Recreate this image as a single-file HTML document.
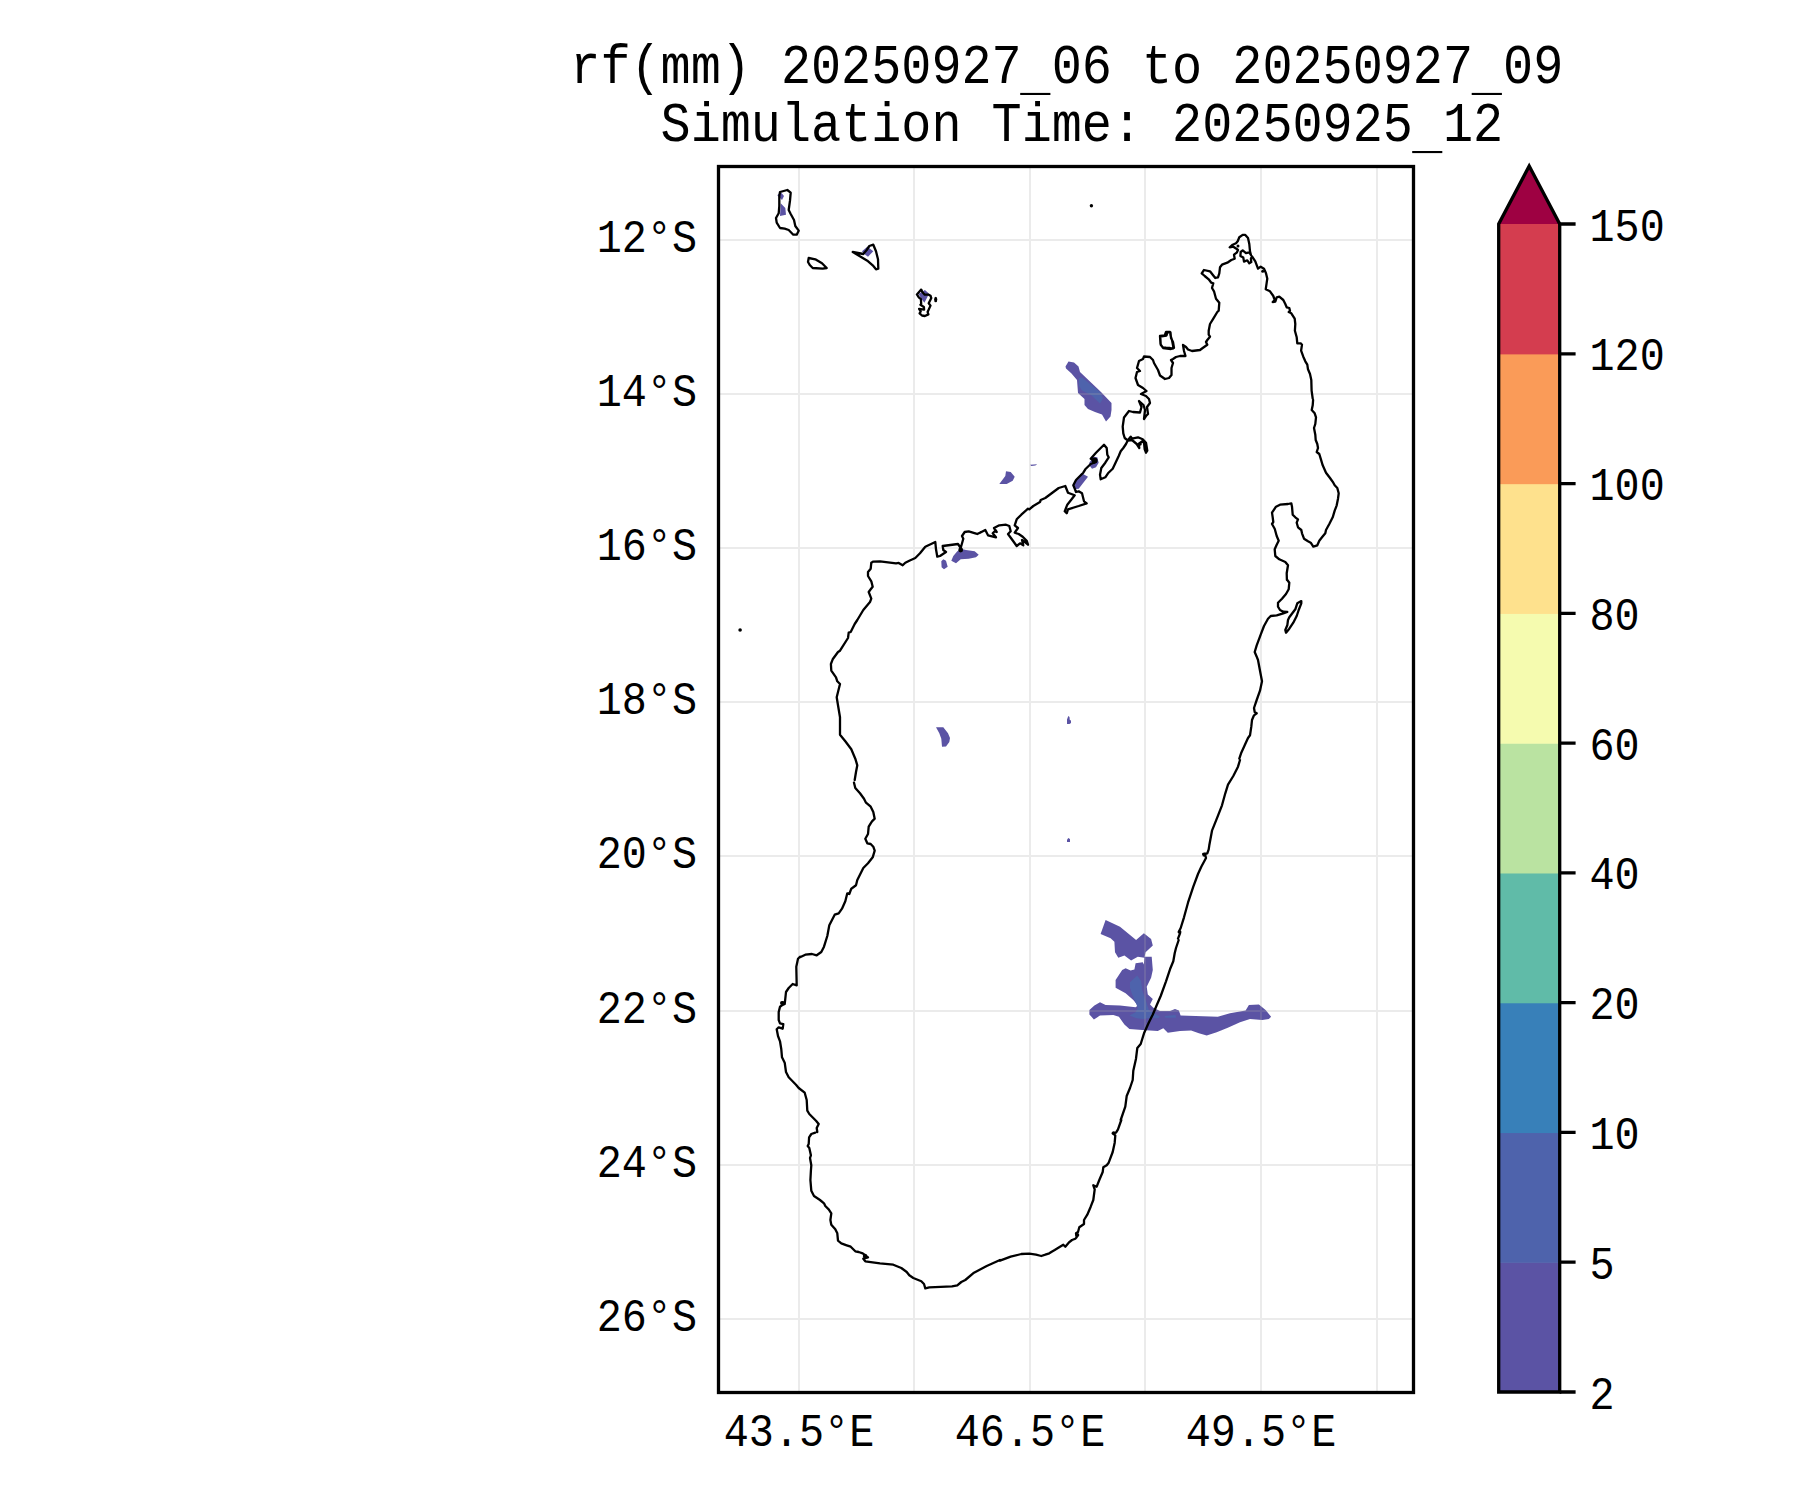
<!DOCTYPE html>
<html><head><meta charset="utf-8"><style>
html,body{margin:0;padding:0;background:#fff;width:1800px;height:1500px;overflow:hidden}
svg{display:block}
text{font-family:"Liberation Mono", monospace;fill:#000}
</style></head><body>
<svg width="1800" height="1500" viewBox="0 0 1800 1500">
<rect width="1800" height="1500" fill="#fff"/>
<path d="M936.0 727.3 943.3 727.3 948.0 733.3 950.0 738.0 949.3 742.0 946.0 746.4 942.0 746.7 941.3 738.7 939.3 733.3ZM951.3 560.7 953.3 556.0 957.3 551.3 960.7 548.7 966.0 550.0 974.7 551.3 978.7 554.7 976.0 557.3 968.7 558.7 960.7 559.3 956.0 563.3ZM941.3 561.3 943.3 559.3 946.0 560.7 947.7 566.7 944.0 569.3 941.6 567.3ZM999.3 484.0 1005.3 476.0 1006.0 471.3 1010.7 472.0 1014.7 476.7 1012.7 480.7 1006.7 484.0ZM1030.0 464.7 1037.3 464.3 1035.3 465.6 1031.3 466.0ZM1073.3 484.0 1081.3 473.1 1088.0 476.7 1078.7 488.7 1074.0 489.3ZM1089.3 462.7 1093.3 456.7 1097.3 457.3 1098.7 462.7 1096.0 467.3 1092.0 468.7 1089.3 465.3ZM1065.5 366.5 1068.5 361.5 1074.0 362.5 1078.5 366.5 1080.0 372.0 1101.0 392.0 1111.5 403.0 1111.5 410.0 1110.5 416.5 1106.0 421.5 1102.0 414.5 1095.0 412.0 1088.0 409.0 1084.5 405.0 1084.5 399.0 1078.0 393.0 1077.0 380.0 1071.5 373.5 1066.0 368.5ZM777.3 195.3 780.7 192.0 784.0 196.0 782.0 200.0ZM780.7 203.3 785.3 208.0 786.0 214.7 780.0 216.0ZM862.0 251.3 867.3 246.7 870.7 249.3 873.3 251.3 868.0 256.7 863.3 253.3ZM1105.6 920.0 1120.0 926.7 1136.1 940.0 1143.9 933.3 1151.1 938.9 1152.8 945.6 1145.6 952.2 1144.4 957.8 1137.8 956.7 1131.1 960.6 1124.4 955.6 1118.3 957.8 1115.0 952.2 1114.4 941.7 1110.6 938.3 1100.6 933.9ZM1135.6 963.3 1142.8 962.2 1143.9 964.4 1144.4 956.7 1151.7 956.7 1152.8 970.0 1151.1 977.8 1146.7 986.7 1147.8 994.4 1152.8 998.9 1150.0 1004.4 1153.3 1007.8 1160.0 1011.1 1170.0 1011.1 1175.0 1008.9 1178.9 1010.6 1180.6 1015.6 1217.8 1016.7 1230.0 1013.3 1245.6 1010.6 1248.9 1005.0 1258.9 1004.4 1265.6 1010.0 1271.1 1016.7 1268.9 1018.9 1262.2 1020.0 1250.0 1018.9 1240.0 1022.2 1227.8 1027.8 1216.7 1032.2 1206.7 1035.6 1198.9 1033.3 1191.1 1030.6 1180.0 1031.1 1167.8 1032.8 1163.3 1028.3 1157.8 1031.1 1142.2 1030.0 1129.4 1028.9 1124.4 1024.4 1118.9 1016.7 1113.3 1015.0 1100.0 1015.6 1093.9 1019.4 1089.4 1014.4 1089.4 1010.0 1094.4 1005.6 1100.0 1002.2 1105.6 1005.0 1120.0 1005.6 1135.6 1007.2 1137.8 1005.6 1133.3 1000.0 1125.6 993.3 1115.6 987.8 1115.6 980.0 1122.2 970.0 1125.6 968.3 1130.6 970.6 1134.4 969.4ZM918.5 294.1 924.9 290.1 928.9 293.6 927.3 297.3 924.4 302.7 921.7 299.2ZM1067 719.5L1068.3 716L1069.5 717L1069.8 720L1071 720.5L1071 723L1069.5 724L1067 724ZM1067 840L1068.2 838L1070 839L1070 842L1067 842Z" fill="#5b53a4" stroke="none"/>
<path d="M1079.0 378.0 1082.0 377.5 1100.0 392.0 1103.0 398.5 1100.0 403.5 1091.0 395.0 1082.0 390.5 1079.0 386.0ZM1130.0 982.2 1137.2 975.6 1141.1 981.1 1142.2 990.0 1145.6 1000.0 1148.9 1010.0 1160.0 1016.7 1157.8 1018.3 1151.1 1017.8 1143.3 1018.9 1136.7 1018.3 1129.4 1015.6 1135.6 1012.2 1137.8 1007.8 1132.2 994.4 1130.0 987.8ZM1164.4 1016.1 1175.6 1015.0 1176.1 1017.8 1165.6 1017.8Z" fill="#4e63ac" stroke="none"/>
<path d="M799.0 166.5V1392.5M914.0 166.5V1392.5M1030.0 166.5V1392.5M1145.0 166.5V1392.5M1261.0 166.5V1392.5M1377.0 166.5V1392.5M718.5 240.0H1413.5M718.5 394.0H1413.5M718.5 548.0H1413.5M718.5 702.0H1413.5M718.5 856.0H1413.5M718.5 1011.0H1413.5M718.5 1165.0H1413.5M718.5 1319.0H1413.5" stroke="#a7a7a7" stroke-opacity="0.23" stroke-width="2" fill="none"/>
<path d="M1242.7 234.9 1245.3 234.9 1248.0 238.0 1249.3 244.0 1250.0 251.3 1250.9 254.9 1249.3 252.3 1246.0 253.1 1242.7 250.4 1240.7 252.0 1240.4 256.0 1243.3 257.6 1244.0 261.6 1247.3 260.3 1249.3 263.3 1251.3 262.1 1250.9 258.7 1252.0 256.3 1255.3 261.3 1258.0 268.7 1260.7 266.7 1264.0 268.7 1266.0 273.3 1267.3 278.7 1266.7 282.7 1265.7 289.3 1270.0 291.3 1273.3 296.0 1274.7 300.0 1272.7 302.0 1275.3 301.6 1276.7 297.3 1279.3 296.7 1283.3 300.0 1285.3 304.0 1286.7 307.3 1289.3 308.0 1290.0 310.7 1288.7 312.0 1291.3 313.3 1294.7 318.7 1295.3 324.0 1294.9 330.7 1296.7 337.3 1297.3 343.3 1300.7 343.3 1302.0 344.7 1301.1 350.7 1303.3 356.7 1305.3 361.3 1307.3 364.7 1308.0 369.3 1310.0 374.0 1311.3 380.0 1311.6 390.7 1312.7 398.7M1242.7 234.9 1239.3 237.3 1237.7 241.3 1236.0 243.3 1232.7 244.7 1229.7 247.3 1233.3 246.7 1236.4 248.7 1238.0 250.0 1236.7 252.7 1234.0 254.7 1234.7 258.7 1231.3 260.0 1227.3 262.7 1222.0 264.7 1220.0 267.3 1219.3 273.3 1218.0 277.3 1215.3 278.0 1212.7 274.7 1210.0 271.3 1204.0 270.0 1201.7 273.3 1204.7 276.0 1208.7 279.3 1211.3 282.7 1213.3 283.3 1212.0 288.0 1214.0 291.3 1216.0 298.7 1219.3 302.7 1218.7 310.7 1217.3 312.0 1213.3 318.7 1210.0 324.0 1208.7 330.7 1208.7 334.7 1210.0 336.7 1207.3 340.0 1206.0 342.0 1207.3 344.7 1202.7 348.0M1166.0 332.0 1170.0 332.0 1170.7 336.0 1172.0 340.0 1173.3 346.7 1172.7 348.7 1170.0 348.0 1166.0 347.7 1162.7 347.3 1160.7 344.7 1160.4 338.7 1160.0 336.0 1164.7 335.3ZM1313.1 400.0 1312.7 405.3 1311.7 410.0 1314.7 413.3 1316.0 417.3 1315.3 424.0 1314.0 428.0 1315.3 434.7 1315.7 440.0 1317.3 444.0 1318.0 448.0 1316.7 452.0 1319.3 454.0 1320.7 458.7 1322.7 465.3 1326.0 472.7 1330.0 478.0 1333.3 482.7 1334.7 485.3 1337.3 488.0 1338.7 493.3 1338.0 498.7 1336.7 505.3 1334.7 510.7 1332.7 517.3 1329.3 524.0 1326.0 530.0 1325.3 533.3 1322.0 537.3 1319.3 540.7 1317.3 545.3 1313.3 546.7 1310.7 542.7 1308.0 541.3 1304.0 538.7 1302.0 533.3 1301.3 530.0 1298.0 527.3 1296.7 522.7 1298.0 519.3 1295.3 517.3 1292.7 514.7 1292.0 506.7 1291.3 503.3 1288.0 504.0 1280.0 504.7 1276.0 506.7 1272.0 512.7 1272.7 517.3 1273.3 522.0 1272.0 524.0 1274.7 528.7 1276.7 536.0 1278.7 540.7 1276.7 544.7 1274.7 549.3 1275.3 556.0 1279.3 559.3 1285.3 562.0 1288.0 565.3 1286.7 573.3 1286.9 580.0M1287.3 580.0 1289.3 582.7 1288.7 589.3 1286.0 594.0 1282.0 598.7 1278.0 602.7 1278.0 606.7 1280.0 610.0 1283.3 611.7 1287.3 612.0 1283.3 613.3 1276.7 615.3 1270.7 616.0 1268.0 618.7 1264.0 626.0 1260.7 634.7 1256.7 645.3 1254.7 652.0 1256.7 656.7 1258.0 660.0 1260.0 670.7 1262.0 681.3 1260.0 690.7 1256.7 700.0 1254.0 708.0 1254.7 712.0 1256.7 713.3 1254.0 715.3 1252.0 720.0 1251.3 726.7 1250.0 735.3 1248.0 738.0 1244.7 745.3 1241.3 752.7 1239.3 758.7M1301.3 601.1 1297.3 603.3 1295.3 609.3 1289.3 617.3 1288.0 620.0 1287.3 625.3 1285.3 630.0 1286.0 632.7 1289.3 628.7 1293.3 622.7 1296.7 616.0 1298.7 610.0 1301.3 603.3ZM1240.0 760.0 1238.0 766.7 1233.3 776.0 1228.0 784.7 1225.3 793.3 1222.0 805.3 1217.3 817.3 1212.0 830.7 1209.3 845.3 1208.7 849.3 1207.3 853.3 1203.3 854.0 1205.3 855.3 1206.0 858.0 1201.3 866.7 1198.0 874.0 1193.3 886.7 1188.0 902.7 1184.0 917.3 1180.7 928.0 1178.7 932.0 1180.0 933.3 1178.0 938.7M1178.7 940.0 1176.0 948.0 1174.7 953.3 1173.3 961.3 1170.0 969.3 1166.0 981.3 1160.7 996.0 1156.7 1005.3 1152.7 1014.7 1148.7 1022.7 1144.0 1033.3 1140.7 1044.0 1137.3 1048.0 1136.0 1058.7 1133.3 1070.7 1132.7 1080.0 1130.0 1088.0 1126.7 1096.0 1125.3 1106.7 1120.7 1120.0M1121.3 1120.0 1118.0 1129.3 1116.0 1132.7 1112.7 1133.3 1115.3 1135.3 1114.7 1142.7 1112.7 1152.0 1108.7 1162.7 1106.7 1165.3 1103.3 1167.3 1102.7 1172.0 1099.3 1180.0 1096.7 1186.7 1093.3 1185.3 1094.7 1189.3 1093.3 1200.0 1090.7 1206.7 1087.3 1214.7 1084.0 1220.0 1084.0 1224.0 1079.3 1227.3 1078.0 1232.0 1076.0 1233.3 1076.7 1237.3 1075.3 1238.7 1072.0 1240.0 1068.7 1242.7 1065.3 1246.7 1063.3 1244.7 1060.0 1246.7 1054.7 1250.0 1051.3 1252.0 1049.3 1253.3 1045.3 1254.7 1041.3 1256.0 1036.0 1254.7 1029.3 1253.7 1021.3 1254.0 1010.7 1256.7 1000.0 1260.7M1000.0 1260.0 986.7 1266.0 974.0 1272.7 965.3 1280.0 961.3 1282.0 957.3 1285.3 952.0 1286.4 929.3 1287.3 925.3 1288.3 924.0 1284.0 921.3 1281.3 913.3 1278.0 909.3 1275.3 906.7 1272.0 901.3 1268.0 893.3 1264.7 880.0 1263.3 865.3 1261.3 863.3 1258.7 868.0 1257.3 862.7 1253.3 858.7 1252.0 855.3 1251.3 850.7 1246.7 846.7 1245.3 841.3 1243.3 838.0 1240.7 837.3 1233.3 835.3 1229.3 831.3 1224.7 830.4 1220.0 831.3 1213.3 828.7 1209.3 825.3 1206.0 824.0 1203.3 820.0 1200.0 814.0 1196.0 811.3 1190.7 810.4 1180.0 810.9 1170.7 811.3 1165.3 810.0 1158.0 810.9 1155.3 809.3 1148.0 807.7 1146.0 808.7 1144.0 809.1 1137.3 811.3 1134.0 815.3 1132.7M817.3 1132.0 816.7 1128.0 818.7 1124.0 816.0 1120.7 809.3 1114.0 807.3 1110.7 806.7 1100.0 804.7 1092.7 798.7 1088.0 796.0 1084.7 793.3 1082.0 788.7 1077.3 786.0 1072.0 784.7 1062.7 782.0 1057.3 781.3 1049.3 780.0 1041.3 778.0 1036.0 776.7 1029.3 778.7 1027.3 782.7 1028.7 783.3 1024.0 780.0 1023.3 778.7 1020.0 778.7 1012.0 780.0 1006.7 782.0 1005.3 784.7 1004.0 785.3 998.7 786.0 992.0 788.7 988.0 792.7 984.0 796.7 985.3 796.3 966.7 798.0 958.7 800.0 956.7M800.0 957.3 805.3 954.7 812.0 954.0 816.7 955.3 821.3 952.0 824.0 946.7 827.3 936.0 829.3 925.3 834.7 914.7 838.7 913.3 842.0 908.7 845.3 901.3 847.3 893.3 849.3 894.0 851.3 888.7 856.0 885.3 857.3 880.0 863.3 868.0 868.0 863.3 872.7 857.3 874.7 850.7 873.3 846.7 870.7 844.0 867.3 843.3 865.3 838.7 868.0 834.0 868.7 826.7 870.7 823.3 872.0 821.3 874.7 818.7 873.3 812.0 870.7 806.7 866.0 802.7 864.0 798.7 860.0 793.3 855.3 788.0 854.0 782.7M854.7 780.0 856.0 772.0 857.3 765.3 855.3 758.7 851.3 749.3 845.3 741.3 840.0 734.7 840.0 717.3 838.0 705.3 836.7 697.3 838.0 692.0 840.0 684.0 837.3 681.3 836.0 677.3 831.3 670.7 830.9 664.0 832.7 659.3 838.0 652.0 840.0 650.7M840.0 650.7 848.0 638.0 848.7 632.7 850.7 632.0 854.7 624.0 857.3 620.0 863.3 610.0 870.0 602.0 871.3 598.7 868.7 592.0 870.7 589.3 872.7 586.7 871.3 581.3 868.0 576.0 868.0 572.0 870.7 568.7 871.3 562.7 873.3 561.6 880.0 561.3 896.0 563.3 898.7 562.9 902.7 565.3 905.3 562.7 909.3 560.7 915.3 558.0 920.0 553.3 925.3 546.7 935.3 542.0 936.0 549.3 937.3 556.7 940.0 556.0 946.0 552.0 943.3 550.0 942.7 546.0 958.0 544.0 960.7 548.0 963.3 538.7 962.0 536.0 964.7 532.0 968.7 531.3 975.3 533.3 977.3 534.0 980.3 532.5M980.0 532.7 985.3 530.0 988.0 535.3 996.0 537.3 992.7 533.3 994.7 531.3 996.7 532.0 994.0 528.0 999.3 525.3 1006.0 524.7 1009.3 526.0 1010.7 531.3 1008.0 534.0 1013.3 541.3 1016.7 546.0 1020.0 543.3 1023.3 545.3 1022.0 540.0 1024.0 541.3 1028.0 544.7 1026.7 540.7 1022.7 536.7 1018.7 534.0 1014.7 532.7 1018.0 528.0 1014.7 525.3 1016.7 519.3 1021.3 514.7 1028.0 508.7 1029.3 509.3 1033.3 506.0 1040.0 502.0 1040.7 500.0 1045.3 498.0 1058.7 488.0 1065.3 486.0 1068.0 492.7 1074.7 495.3 1072.0 498.7 1067.3 504.7 1064.7 511.3 1066.7 513.3 1068.0 509.3 1078.7 506.0 1086.7 503.3 1084.0 501.3 1082.0 493.3 1078.7 491.3 1076.0 492.0 1074.7 488.7 1073.3 485.3 1076.0 480.0 1078.7 477.3 1083.3 472.7 1085.3 469.3 1090.7 464.0 1094.0 462.7 1096.0 461.3 1093.3 460.0 1090.7 458.7 1096.0 452.7 1104.0 444.7 1106.7 448.0 1107.3 454.7 1108.7 457.3 1105.3 462.7 1101.3 468.0 1100.0 474.7 1100.7 479.3 1105.3 477.3 1108.0 473.3 1112.7 468.7 1115.3 463.3 1118.7 456.0 1120.7 451.3 1123.3 448.0 1126.0 444.0 1128.0 440.0 1130.7 436.7 1132.0 438.7 1138.0 437.3 1142.7 439.3 1146.0 442.7 1147.3 450.7 1146.0 452.7 1144.7 449.3 1144.0 442.7 1142.0 441.3 1138.7 444.0 1139.3 448.0 1136.7 444.0 1132.0 440.0 1128.0 440.7 1124.7 438.0 1123.3 433.3M1123.3 433.3 1122.7 426.7 1124.0 417.5 1129.0 411.0 1133.0 412.0 1140.0 412.5 1141.5 407.0 1139.0 401.0 1143.5 405.0 1145.0 410.0 1144.0 419.0 1146.0 416.0 1148.0 414.0 1147.0 407.0 1150.0 403.0 1149.0 399.0 1146.0 396.0 1141.0 394.0 1146.5 391.0 1143.0 388.0 1138.0 385.0 1135.5 378.0 1137.0 372.0 1140.0 371.0 1137.0 368.0 1139.0 361.0 1143.0 359.0 1144.0 356.5 1150.0 357.0 1153.0 360.0 1154.0 363.0 1158.0 370.0 1160.0 375.5 1165.0 379.0 1169.0 378.0 1171.5 375.0 1171.5 368.0 1173.0 363.0 1171.0 360.0 1173.0 359.0 1176.0 357.0 1180.0 356.0 1185.5 356.0 1184.0 351.0 1183.0 345.0 1186.0 347.0 1188.0 349.5 1192.0 351.0 1200.0 350.0 1202.7 348.0M1160.0 336.5 1166.5 335.5 1167.5 332.0 1170.5 332.5 1171.0 338.0 1173.0 342.0 1174.0 348.0 1171.0 349.0 1163.0 348.0 1160.5 344.0ZM780.0 192.0 787.3 190.0 790.7 192.7 790.0 200.7 788.7 210.0 790.7 214.0 794.0 220.0 795.3 226.0 798.7 230.7 796.7 234.7 793.3 234.7 788.7 230.0 784.7 228.7 780.0 228.0 776.7 222.7 776.0 218.0 778.7 213.3 779.3 206.0 779.3 196.0ZM808.7 258.0 815.3 259.3 822.0 263.3 826.7 268.0 822.7 268.7 812.7 268.0 810.0 265.3 808.0 262.0ZM852.7 252.0 863.3 254.0 866.7 250.0 869.3 246.0 873.3 244.7 876.0 251.3 878.0 259.3 878.3 268.7 876.0 269.3 872.7 265.3 867.3 260.7 860.7 256.7ZM921.2 289.6 916.9 294.4 918.8 297.3 920.9 299.2 921.2 304.0 920.4 304.8 923.9 306.9 924.1 309.6 919.1 308.8 920.7 311.5 919.6 313.3 922.0 315.5 924.9 316.0 928.4 314.4 927.6 312.0 930.5 305.6 928.7 303.2 931.3 298.1 930.5 295.7 928.7 294.7 924.7 294.7 922.5 292.3Z" fill="none" stroke="#000" stroke-width="2.3" stroke-linejoin="round" stroke-linecap="round"/>
<circle cx="1238.0" cy="246.0" r="1.50" fill="#000"/>
<circle cx="1262.7" cy="271.3" r="1.50" fill="#000"/>
<circle cx="782.9" cy="1002.4" r="1.50" fill="#000"/>
<circle cx="960.7" cy="550.0" r="2.40" fill="#000"/>
<circle cx="1094.4" cy="460.8" r="1.50" fill="#000"/>
<circle cx="1140.0" cy="444.0" r="1.80" fill="#000"/>
<circle cx="1204.3" cy="854.7" r="2.00" fill="#000"/>
<circle cx="1179.7" cy="932.0" r="1.80" fill="#000"/>
<circle cx="1113.6" cy="1133.0" r="1.80" fill="#000"/>
<circle cx="1077.3" cy="1235.0" r="2.00" fill="#000"/>
<circle cx="782.0" cy="1003.0" r="2.00" fill="#000"/>
<circle cx="865.0" cy="1256.0" r="2.20" fill="#000"/>
<circle cx="1091.4" cy="205.8" r="1.70" fill="#000"/>
<circle cx="740.1" cy="630.0" r="1.80" fill="#000"/>
<ellipse cx="935.7" cy="299.5" rx="1.6" ry="2.8" fill="#000"/>
<circle cx="1094.6" cy="460.6" r="2.0" fill="none" stroke="#000" stroke-width="2.1"/>
<rect x="718.5" y="166.5" width="695.0" height="1226.0" fill="none" stroke="#000" stroke-width="3.3"/>
<text transform="translate(1066.8,82.8) scale(1,1.095)" font-size="50.15" text-anchor="middle" xml:space="preserve">rf(mm) 20250927 06 to 20250927 09</text>
<text transform="translate(1066.8,140.6) scale(1,1.095)" font-size="50.15" text-anchor="middle" xml:space="preserve"> Simulation Time: 20250925 12</text>
<rect x="1020.2" y="92.9" width="30.2" height="2.1" fill="#000"/>
<rect x="1471.7" y="92.9" width="30.2" height="2.1" fill="#000"/>
<rect x="1412.2" y="151.0" width="30.1" height="2.1" fill="#000"/>
<text transform="translate(697.0,251.8) scale(1,1.125)" font-size="41.8" text-anchor="end" xml:space="preserve">12°S</text>
<text transform="translate(697.0,405.8) scale(1,1.125)" font-size="41.8" text-anchor="end" xml:space="preserve">14°S</text>
<text transform="translate(697.0,559.8) scale(1,1.125)" font-size="41.8" text-anchor="end" xml:space="preserve">16°S</text>
<text transform="translate(697.0,713.8) scale(1,1.125)" font-size="41.8" text-anchor="end" xml:space="preserve">18°S</text>
<text transform="translate(697.0,867.8) scale(1,1.125)" font-size="41.8" text-anchor="end" xml:space="preserve">20°S</text>
<text transform="translate(697.0,1022.8) scale(1,1.125)" font-size="41.8" text-anchor="end" xml:space="preserve">22°S</text>
<text transform="translate(697.0,1176.8) scale(1,1.125)" font-size="41.8" text-anchor="end" xml:space="preserve">24°S</text>
<text transform="translate(697.0,1330.8) scale(1,1.125)" font-size="41.8" text-anchor="end" xml:space="preserve">26°S</text>
<text transform="translate(799.0,1446.0) scale(1,1.125)" font-size="41.8" text-anchor="middle" xml:space="preserve">43.5°E</text>
<text transform="translate(1030.0,1446.0) scale(1,1.125)" font-size="41.8" text-anchor="middle" xml:space="preserve">46.5°E</text>
<text transform="translate(1261.0,1446.0) scale(1,1.125)" font-size="41.8" text-anchor="middle" xml:space="preserve">49.5°E</text>
<rect x="1498.7" y="1262.22" width="61.0" height="130.38" fill="#5b53a4"/>
<rect x="1498.7" y="1132.44" width="61.0" height="130.38" fill="#4e63ac"/>
<rect x="1498.7" y="1002.67" width="61.0" height="130.38" fill="#3880b9"/>
<rect x="1498.7" y="872.89" width="61.0" height="130.38" fill="#60bba8"/>
<rect x="1498.7" y="743.11" width="61.0" height="130.38" fill="#bae3a1"/>
<rect x="1498.7" y="613.33" width="61.0" height="130.38" fill="#f5fbaf"/>
<rect x="1498.7" y="483.56" width="61.0" height="130.38" fill="#fee18d"/>
<rect x="1498.7" y="353.78" width="61.0" height="130.38" fill="#fa9b58"/>
<rect x="1498.7" y="224.00" width="61.0" height="130.38" fill="#d43d4f"/>
<path d="M1498.7 224.0L1529.20 166.0L1559.7 224.0Z" fill="#9e0142"/>
<path d="M1498.7 1392.0V224.0L1529.20 166.0L1559.7 224.0V1392.0Z" fill="none" stroke="#000" stroke-width="3.3" stroke-linejoin="miter"/>
<text transform="translate(1589.5,1408.5) scale(1,1.125)" font-size="41.8" text-anchor="start" xml:space="preserve">2</text>
<text transform="translate(1589.5,1278.7) scale(1,1.125)" font-size="41.8" text-anchor="start" xml:space="preserve">5</text>
<text transform="translate(1589.5,1148.9) scale(1,1.125)" font-size="41.8" text-anchor="start" xml:space="preserve">10</text>
<text transform="translate(1589.5,1019.2) scale(1,1.125)" font-size="41.8" text-anchor="start" xml:space="preserve">20</text>
<text transform="translate(1589.5,889.4) scale(1,1.125)" font-size="41.8" text-anchor="start" xml:space="preserve">40</text>
<text transform="translate(1589.5,759.6) scale(1,1.125)" font-size="41.8" text-anchor="start" xml:space="preserve">60</text>
<text transform="translate(1589.5,629.8) scale(1,1.125)" font-size="41.8" text-anchor="start" xml:space="preserve">80</text>
<text transform="translate(1589.5,500.1) scale(1,1.125)" font-size="41.8" text-anchor="start" xml:space="preserve">100</text>
<text transform="translate(1589.5,370.3) scale(1,1.125)" font-size="41.8" text-anchor="start" xml:space="preserve">120</text>
<text transform="translate(1589.5,240.5) scale(1,1.125)" font-size="41.8" text-anchor="start" xml:space="preserve">150</text>
<path d="M1559.7 1392.00H1575.6M1559.7 1262.22H1575.6M1559.7 1132.44H1575.6M1559.7 1002.67H1575.6M1559.7 872.89H1575.6M1559.7 743.11H1575.6M1559.7 613.33H1575.6M1559.7 483.56H1575.6M1559.7 353.78H1575.6M1559.7 224.00H1575.6" stroke="#000" stroke-width="3.3"/>
</svg></body></html>
